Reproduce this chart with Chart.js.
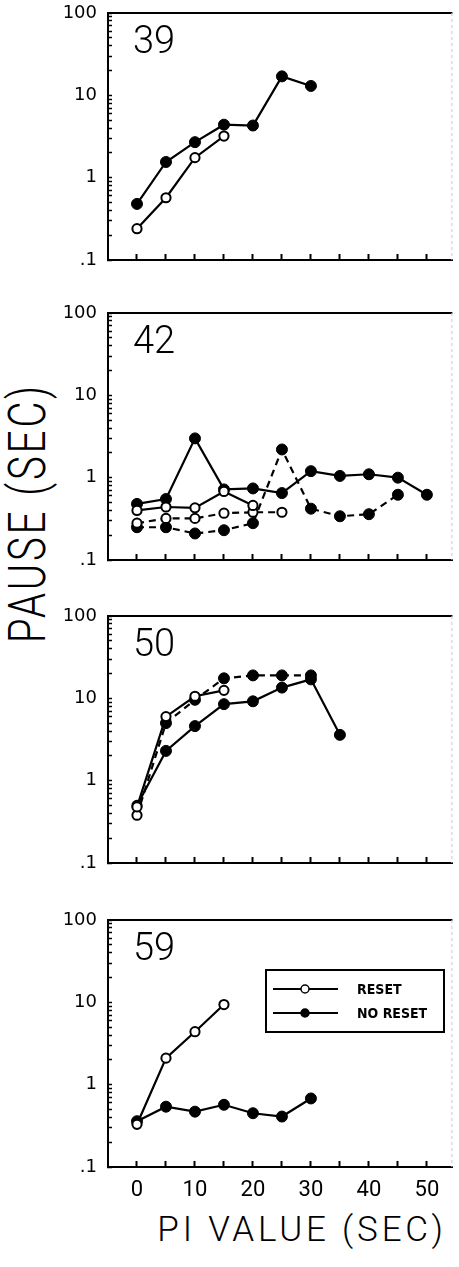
<!DOCTYPE html>
<html>
<head>
<meta charset="utf-8">
<script src="https://cdn.jsdelivr.net/npm/chart.js@4.4.1/dist/chart.umd.min.js"></script>
<style>
  body { margin: 0; background: #fff; width: 459px; height: 1267px; position: relative; overflow: hidden; }
  #xtitle {
    position: absolute; left: 102px; width: 400px; top: 1212px;
    text-align: center; font: 300 35px Roboto, sans-serif; line-height: 35px;
    letter-spacing: 3.8px; color: #000;
  }
  #ytitle {
    position: absolute; left: -127px; top: 493px; width: 300px; height: 40px;
    line-height: 40px; text-align: center; font: 300 40px Roboto, sans-serif;
    letter-spacing: 3px; color: #000; transform: rotate(-90deg) scaleY(1.3);
  }
</style>
</head>
<body>
<div id="ytitle">PAUSE (SEC)</div>
<div id="xtitle">PI VALUE (SEC)</div>
<script>
'use strict'

/* ------------------------------ Data ------------------------------ */

// PI values (sec) along the x axis, one per data index
const piValues = [0, 5, 10, 15, 20, 25, 30, 35, 40, 45, 50]
const xTickValues = [0, 5, 10, 15, 20, 25, 30, 35, 40, 45, 50]
const yLabelValues = [0.1, 1, 10, 100]
const yLabelTexts = ['.1', '1', '10', '100']
const panelLabels = ['39', '42', '50', '59']
const legendLabels = ['RESET', 'NO RESET']

// pause (sec), subject 39
const reset39 = [0.24, 0.57, 1.75, 3.2]
const noReset39 = [0.48, 1.55, 2.7, 4.4, 4.3, 17, 13]

// subject 42 (solid and dashed runs)
const reset42 = [0.40, 0.44, 0.43, 0.68, 0.46]
const noReset42 = [0.48, 0.55, 3.0, 0.72, 0.74, 0.65, 1.2, 1.05, 1.1, 1.0, 0.62]
const reset42b = [0.28, 0.32, 0.32, 0.37, 0.38, 0.38]
const noReset42b = [0.25, 0.25, 0.21, 0.23, 0.28, 2.2, 0.42, 0.34, 0.36, 0.62]

// subject 50
const reset50 = [0.48, 6.0, 10.6, 12.5]
const noReset50 = [0.5, 2.3, 4.6, 8.5, 9.2, 13.5, 17, 3.6]
const noReset50b = [0.38, 5.0, 9.6, 17.5, 19, 19, 19]

// subject 59
const reset59 = [0.33, 2.1, 4.4, 9.4]
const noReset59 = [0.36, 0.54, 0.47, 0.57, 0.45, 0.41, 0.68]

/* ------------------------------ Layout ------------------------------ */

const PLOT_LEFT = 108
const PLOT_RIGHT = 458
const PLOT_H = 247
const PAD_TOP = 14

const panels = [
  { top: 13, series: [{ values: reset39, open: true }, { values: noReset39 }] },
  {
    top: 313,
    series: [
      { values: reset42, open: true },
      { values: reset42b, open: true, dashed: true },
      { values: noReset42 },
      { values: noReset42b, dashed: true }
    ]
  },
  {
    top: 616,
    series: [
      { values: reset50, open: true },
      { values: noReset50b, dashed: true, firstOpen: true },
      { values: noReset50, firstOpen: true }
    ]
  },
  { top: 920, series: [{ values: reset59, open: true }, { values: noReset59 }] }
]

// minor + major ticks for the log axis
const yTicks = []
;[0.1, 1, 10].forEach(d => {
  for (let m = 1; m <= 9; m++) yTicks.push(Math.round(m * d * 10) / 10)
})
yTicks.push(100)

/* ------------------------------ Plugins ------------------------------ */

const framePlugin = {
  id: 'frame',
  beforeDatasetsDraw (chart) {
    const { ctx, chartArea: a } = chart
    ctx.save()
    ctx.strokeStyle = '#000'
    ctx.lineWidth = 2
    ctx.beginPath()
    ctx.moveTo(a.left - 1, a.top)
    ctx.lineTo(a.right, a.top)
    ctx.stroke()
    ctx.strokeStyle = '#c8c8c8'
    ctx.lineWidth = 1
    ctx.setLineDash([3, 3])
    ctx.beginPath()
    ctx.moveTo(a.right - 0.5, a.top)
    ctx.lineTo(a.right - 0.5, a.bottom)
    ctx.stroke()
    ctx.restore()
  }
}

const panelNamePlugin = {
  id: 'panelName',
  afterDraw (chart, args, opts) {
    const { ctx, chartArea: a } = chart
    ctx.save()
    ctx.fillStyle = '#000'
    ctx.font = '300 38px Roboto'
    ctx.textBaseline = 'alphabetic'
    ctx.fillText(opts.text, 133, a.top + 40)
    ctx.restore()
  }
}

const boxLegendPlugin = {
  id: 'boxLegend',
  afterDraw (chart) {
    const { ctx, chartArea: a } = chart
    ctx.save()
    ctx.strokeStyle = '#000'
    ctx.lineWidth = 2
    ctx.strokeRect(266, a.top + 50, 178, 62)
    legendLabels.forEach((txt, i) => {
      const y = a.top + 69 + i * 24
      ctx.lineWidth = 2
      ctx.beginPath()
      ctx.moveTo(273, y)
      ctx.lineTo(338, y)
      ctx.stroke()
      ctx.beginPath()
      ctx.arc(305, y, 4, 0, Math.PI * 2)
      ctx.fillStyle = i === 0 ? '#fff' : '#000'
      ctx.fill()
      ctx.lineWidth = 1.5
      ctx.stroke()
      ctx.fillStyle = '#000'
      ctx.font = 'bold 14px "Liberation Sans Narrow", "DejaVu Sans Condensed", sans-serif'
      ctx.textBaseline = 'middle'
      ctx.fillText(txt, 357, y + 1)
    })
    ctx.restore()
  }
}

// keep the plot box where we put it: no extra room for edge labels
function noEdgePadding (sc) {
  sc.paddingTop = 0
  sc.paddingBottom = 0
  sc.paddingLeft = 0
  sc.paddingRight = 0
}

/* ------------------------------ Charts ------------------------------ */

function makePanel (panel, idx) {
  const last = idx === panels.length - 1
  const bottomH = last ? 40 : 14
  const h = PAD_TOP + PLOT_H + bottomH

  const canvas = document.createElement('canvas')
  canvas.width = 459
  canvas.height = h
  canvas.style.cssText = `position:absolute;left:0;top:${panel.top - PAD_TOP}px;width:459px;height:${h}px`
  document.body.appendChild(canvas)

  const datasets = panel.series.map(s => {
    const isOpen = i => s.open || (s.firstOpen && i === 0)
    return {
      data: s.values.map((v, i) => ({ x: piValues[i], y: v })),
      borderColor: '#000',
      borderWidth: 2.2,
      borderDash: s.dashed ? [7, 5] : [],
      tension: 0,
      pointRadius: c => isOpen(c.dataIndex) ? 4.6 : 5.5,
      pointBorderWidth: c => isOpen(c.dataIndex) ? 2 : 1,
      pointBorderColor: '#000',
      pointBackgroundColor: c => isOpen(c.dataIndex) ? '#fff' : '#000'
    }
  })

  const plugins = [framePlugin, panelNamePlugin]
  if (last) plugins.push(boxLegendPlugin)

  return new Chart(canvas, {
    type: 'line',
    data: { datasets },
    options: {
      responsive: false,
      animation: false,
      devicePixelRatio: 1,
      layout: { padding: { top: PAD_TOP, right: 459 - PLOT_RIGHT, left: 0, bottom: 0 } },
      plugins: {
        legend: { display: false },
        tooltip: { enabled: false },
        panelName: { text: panelLabels[idx] }
      },
      scales: {
        x: {
          type: 'linear',
          min: -5,
          max: 54.4,
          afterBuildTicks: sc => { sc.ticks = xTickValues.map(v => ({ value: v })) },
          afterFit: sc => { sc.height = bottomH; noEdgePadding(sc) },
          grid: { drawOnChartArea: false, tickLength: -6, tickWidth: 2, tickColor: '#000' },
          border: { color: '#000', width: 2 },
          ticks: {
            display: last,
            autoSkip: false,
            maxRotation: 0,
            padding: 16,
            color: '#000',
            font: { family: 'Roboto', size: 22 },
            callback: v => v % 10 === 0 ? String(v) : ''
          }
        },
        y: {
          type: 'logarithmic',
          min: 0.1,
          max: 100,
          afterBuildTicks: sc => { sc.ticks = yTicks.map(v => ({ value: v })) },
          afterFit: sc => { sc.width = PLOT_LEFT; noEdgePadding(sc) },
          grid: { drawOnChartArea: false, tickLength: -4, tickWidth: 1.5, tickColor: '#000' },
          border: { color: '#000', width: 2 },
          ticks: {
            autoSkip: false,
            padding: 15,
            color: '#000',
            font: { family: 'DejaVu Sans', size: 18 },
            callback: v => {
              const k = yLabelValues.findIndex(t => Math.abs(t - v) / t < 1e-6)
              return k < 0 ? '' : yLabelTexts[k]
            }
          }
        }
      }
    },
    plugins
  })
}

panels.forEach(makePanel)
</script>
</body>
</html>
